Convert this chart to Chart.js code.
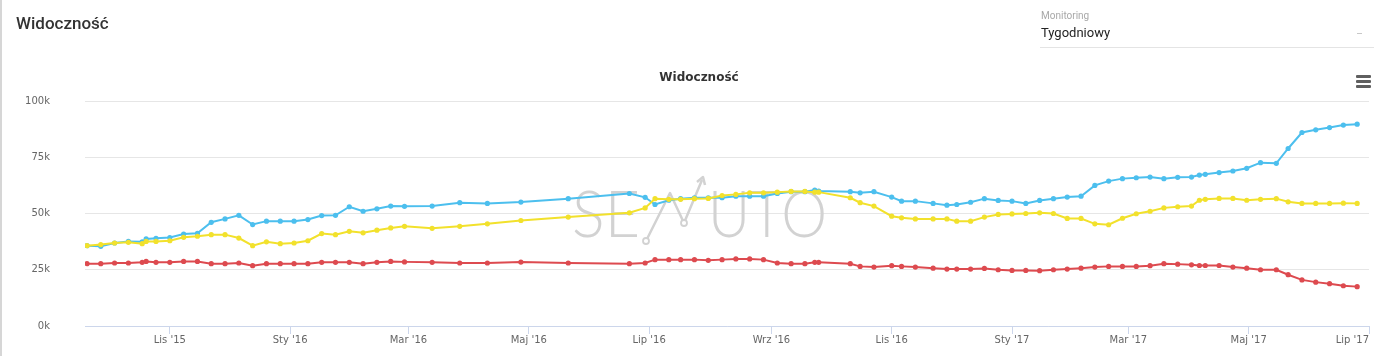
<!DOCTYPE html>
<html><head><meta charset="utf-8">
<script src="https://cdn.jsdelivr.net/npm/chart.js@4"></script>
<style>
html,body{margin:0;padding:0;background:#fff;}
#wrap{position:relative;width:1386px;height:356px;overflow:hidden;box-sizing:border-box;border-left:2px solid #d6d6d6;}
#c{position:absolute;left:0;top:0;}
.hdr{position:absolute;font-family:Roboto,sans-serif;}
#t1{left:14px;top:13px;font-size:17px;font-weight:500;color:#333;}
#mon{left:1039px;top:10px;font-size:10px;color:#a8a8a8;}
#sel{left:1039px;top:25px;font-size:13px;color:#222;}
#line{position:absolute;left:1038px;top:47px;width:334px;height:1px;background:#e4e4e4;}
#caret{position:absolute;left:1355px;top:33px;width:5px;height:1px;background:#c8c8c8;}
.bar{position:absolute;left:1354px;width:15px;height:3px;background:#5f5f5f;border-radius:1px;}
</style></head>
<body><div id="wrap">
<canvas id="c" width="1384" height="356"></canvas>
<div class="hdr" id="t1">Widoczność</div>
<div class="hdr" id="mon">Monitoring</div>
<div class="hdr" id="sel">Tygodniowy</div>
<div id="line"></div><div id="caret"></div>
<div class="bar" style="top:75px"></div><div class="bar" style="top:80px"></div><div class="bar" style="top:85px"></div>
</div>
<script>
const dates = [
'2015-09-20','2015-09-27','2015-10-04','2015-10-11','2015-10-18','2015-10-20','2015-10-25','2015-11-01','2015-11-08','2015-11-15','2015-11-22','2015-11-29','2015-12-06','2015-12-13','2015-12-20','2015-12-27','2016-01-03','2016-01-10','2016-01-17','2016-01-24','2016-01-31','2016-02-07','2016-02-14','2016-02-21','2016-02-28',
'2016-03-13','2016-03-27','2016-04-10','2016-04-27','2016-05-21','2016-06-21','2016-06-29','2016-07-04','2016-07-11','2016-07-17','2016-07-24','2016-07-31',
'2016-08-07','2016-08-14','2016-08-21','2016-08-28','2016-09-04','2016-09-11','2016-09-18','2016-09-23','2016-09-25','2016-10-11','2016-10-16','2016-10-23','2016-11-01','2016-11-06','2016-11-13','2016-11-22','2016-11-29','2016-12-04','2016-12-11','2016-12-18','2016-12-25','2017-01-01','2017-01-08',
'2017-01-15','2017-01-22','2017-01-29','2017-02-05','2017-02-12','2017-02-19','2017-02-26','2017-03-05','2017-03-12','2017-03-19','2017-03-26','2017-04-02','2017-04-06','2017-04-09','2017-04-16','2017-04-23','2017-04-30','2017-05-07','2017-05-15','2017-05-21','2017-05-28','2017-06-04','2017-06-11','2017-06-18','2017-06-25'];

const blue = [
35.7,35.4,36.9,37.6,37.4,38.7,39.0,39.3,40.9,41.2,46.1,47.6,49.2,45.1,46.6,46.6,46.6,47.3,49.1,49.2,53.0,51.0,52.1,53.3,53.2,
53.3,54.8,54.5,55.1,56.6,58.9,57.2,54.0,55.9,56.6,57.0,57.0,
57.0,57.7,57.7,57.7,58.9,59.7,59.7,60.4,60.0,59.7,59.2,59.7,57.3,55.5,55.5,54.5,53.7,54.0,55.0,56.6,55.8,55.5,54.5,
55.8,56.6,57.3,57.7,62.5,64.4,65.5,65.9,66.2,65.5,66.1,66.2,67.1,67.4,68.2,68.9,70.1,72.6,72.3,78.9,86.0,87.2,88.2,89.3,89.7];

const yellow = [
35.7,36.2,36.9,37.2,36.6,37.6,37.6,37.9,39.4,39.9,40.6,40.6,39.1,35.7,37.4,36.6,36.9,37.9,41.1,40.6,42.1,41.4,42.6,43.6,44.3,
43.4,44.3,45.4,46.9,48.4,50.3,52.5,56.6,56.3,56.3,56.6,56.7,
58.0,58.5,59.2,59.2,59.5,59.8,59.8,59.5,59.5,57.0,54.8,53.3,48.8,48.1,47.6,47.6,47.6,46.6,46.6,48.4,49.6,49.8,50.0,
50.3,50.0,47.8,47.8,45.4,45.0,47.9,49.9,51.0,52.5,53.0,53.3,55.9,56.3,56.7,56.7,55.9,56.3,56.6,55.2,54.5,54.5,54.5,54.6,54.5];

const red = [
27.7,27.7,28.0,28.0,28.3,28.7,28.3,28.3,28.7,28.7,27.7,27.7,28.0,26.8,27.7,27.7,27.7,27.7,28.3,28.3,28.3,27.7,28.3,28.7,28.5,
28.3,28.0,28.0,28.4,28.0,27.7,28.0,29.5,29.5,29.5,29.5,29.2,
29.5,29.8,29.8,29.5,28.0,27.7,27.7,28.3,28.3,27.7,26.5,26.2,26.8,26.5,26.2,25.7,25.3,25.3,25.3,25.6,25.0,24.7,24.7,
24.6,25.0,25.3,25.7,26.2,26.5,26.5,26.5,26.8,27.7,27.5,27.2,26.9,26.9,26.9,26.2,25.7,25.0,25.0,22.8,20.5,19.5,18.8,17.9,17.5];

const tickDates = ['2015-11-01','2016-01-01','2016-03-01','2016-05-01','2016-07-01','2016-09-01','2016-11-01','2017-01-01','2017-03-01','2017-05-01','2017-07-01'];
const tickLabels = ["Lis '15","Sty '16","Mar '16","Maj '16","Lip '16","Wrz '16","Lis '16","Sty '17","Mar '17","Maj '17","Lip '17"];
const yTicks = [0,25,50,75,100];
const axisMin = '2015-09-19', axisMax = '2017-07-01';
const chartTitle = 'Widoczność';

const day = s => { const [y,m,d] = s.split('-').map(Number); return Date.UTC(y,m-1,d)/864e5; };
const pts = arr => arr.map((v,i)=>({x:day(dates[i]), y:v}));
const tickDays = tickDates.map(day);

const watermark = {
  id:'wm',
  beforeDatasetsDraw(chart){
    const c = chart.ctx; c.save();
    c.fillStyle = '#d2d2d2'; c.strokeStyle = '#d2d2d2';
    c.font = '300 66px Lato'; c.textBaseline = 'alphabetic';
    const drawFit = (txt, x, w) => { const m = c.measureText(txt).width; c.save(); c.translate(x,237); c.scale(w/m,1); c.fillText(txt,0,0); c.restore(); };
    drawFit('SE', 570, 68);
    drawFit('UTO', 706, 119);
    c.lineWidth = 2.5; c.lineJoin='round';
    c.beginPath(); c.moveTo(644,241); c.lineTo(668,193); c.lineTo(682,223); c.lineTo(700,180); c.stroke();
    c.beginPath(); c.moveTo(695,182); c.lineTo(701,177); c.lineTo(703,185); c.stroke();
    [[644,241],[682,223]].forEach(([x,y])=>{ c.beginPath(); c.arc(x,y,3,0,Math.PI*2); c.fillStyle='#fff'; c.fill(); c.lineWidth=1.8; c.stroke(); });
    c.restore();
  }
};
const titlePlug = {
  id:'ttl',
  afterDraw(chart){
    const c = chart.ctx; c.save();
    c.font = 'bold 12px "DejaVu Sans"'; c.fillStyle = '#333'; c.textAlign='center'; c.textBaseline='middle';
    c.fillText(chartTitle, 697, 78);
    c.restore();
  }
};

const ds = (data,color) => ({data:pts(data), borderColor:color, backgroundColor:color, borderWidth:2, pointRadius:2.6, pointBorderWidth:0, pointHoverRadius:3, tension:0, fill:false});

new Chart(document.getElementById('c'), {
  type:'line',
  data:{datasets:[ds(yellow,'#f2e12c'), ds(blue,'#4cbfee'), ds(red,'#dd4a4f')]},
  options:{
    responsive:false, animation:false, events:[],
    layout:{padding:{left:0,right:17,top:101,bottom:0}},
    plugins:{legend:{display:false}, tooltip:{enabled:false}},
    scales:{
      x:{type:'linear', min:day(axisMin), max:day(axisMax),
        afterBuildTicks(s){ s.ticks = [{value:day(axisMin)}].concat(tickDays.map(v=>({value:v}))); },
        afterFit(s){ s.height = 30; },
        ticks:{autoSkip:false, maxRotation:0, padding:0, align:'inner', color:'#666', font:{family:'"DejaVu Sans"', size:10},
          callback(v){ const i = tickDays.indexOf(v); return i>=0 ? tickLabels[i] : ''; }},
        grid:{drawOnChartArea:false, drawTicks:true, tickLength:8, color:'#ccd6eb',
          tickColor:(ctx)=> ctx.index===0 ? 'rgba(0,0,0,0)' : '#ccd6eb'},
        border:{color:'#ccd6eb', width:1}},
      y:{min:0, max:100,
        afterBuildTicks(s){ s.ticks = yTicks.map(v=>({value:v})); },
        afterFit(s){ s.width = 83; },
        ticks:{padding:0, color:'#666', font:{family:'"DejaVu Sans"', size:10}, callback:v=>v+'k'},
        grid:{color:'#e6e6e6', drawTicks:true, tickLength:35, tickColor:'rgba(0,0,0,0)'}, border:{display:false}}
    }
  },
  plugins:[watermark, titlePlug]
});
</script></body></html>
